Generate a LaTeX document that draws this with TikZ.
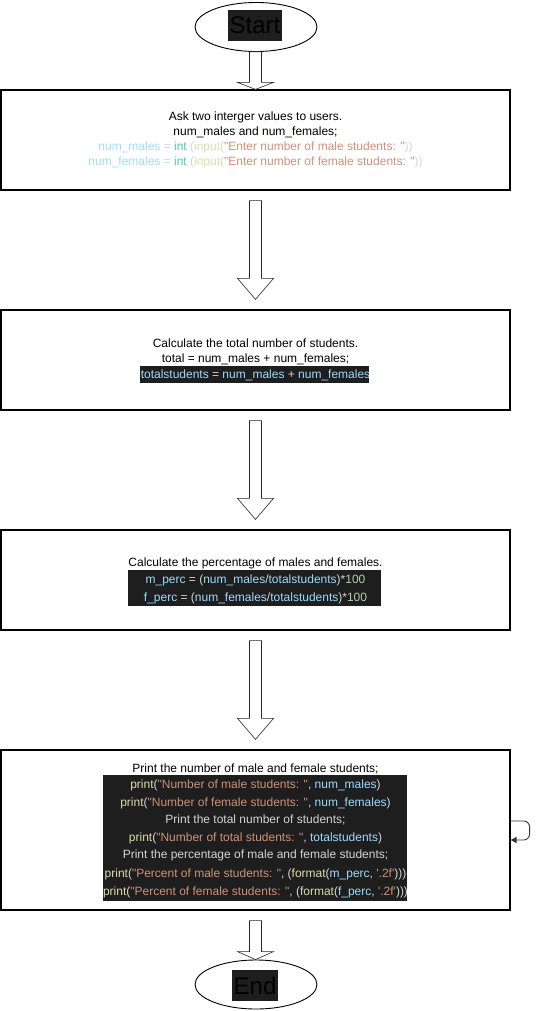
\documentclass[tikz,border=0pt]{standalone}
\usepackage{fontspec}
\newfontfamily\hv{Liberation Sans}
\usetikzlibrary{shapes.geometric,arrows.meta,calc}

\definecolor{codebg}{HTML}{1E1E1E}
\definecolor{codeblue}{HTML}{9CDCFE}
\definecolor{codeteal}{HTML}{4EC9B0}
\definecolor{codeyellow}{HTML}{DCDCAA}
\definecolor{codestr}{HTML}{CE9178}
\definecolor{codegray}{HTML}{D4D4D4}
\definecolor{codenum}{HTML}{B5CEA8}

% syntax colouring helpers
\newcommand\cvar[1]{\textcolor{codeblue}{#1}}
\newcommand\cpun[1]{\textcolor{codegray}{#1}}
\newcommand\cfun[1]{\textcolor{codeyellow}{#1}}
\newcommand\cstr[1]{\textcolor{codestr}{#1}}
\newcommand\ctype[1]{\textcolor{codeteal}{#1}}
\newcommand\cnum[1]{\textcolor{codenum}{#1}}

% hollow block arrow from #1 down to tip #2, head length #3
\newcommand\blockarrow[3]{%
  \draw[blockarrow] let \p1=(#1), \p2=(#2) in
    (\x1-6pt,\y1) -- (\x1+6pt,\y1) -- (\x1+6pt,\y2+#3) -- (\x1+18pt,\y2+#3)
    -- (\x1,\y2) -- (\x1-18pt,\y2+#3) -- (\x1-6pt,\y2+#3) -- cycle;}

\begin{document}
\begin{tikzpicture}[x=1pt,y=-1pt,
  font=\hv\fontsize{12}{14}\selectfont,
  stepbox/.style={draw, line width=1.2pt, minimum width=509pt, minimum height=100pt, inner sep=0pt},
  terminal/.style={ellipse, draw, line width=0.9pt, minimum width=122pt, minimum height=49pt, inner sep=0pt},
  tlabel/.style={fill=codebg, text=black, font=\hv\fontsize{24}{24}\selectfont, inner sep=0pt, minimum height=31pt},
  txt/.style={anchor=base, inner sep=0pt},
  codefill/.style={fill=codebg},
  blockarrow/.style={draw=black!85, line width=0.6pt, fill=white},
  selfloop/.style={draw=black!80, line width=0.9pt, rounded corners=6pt, -{Triangle[length=6pt,width=6pt]}}
]
\path[use as bounding box] (0,0) rectangle (539,1011);

% terminals
\node[terminal] (start) at (256,27) {};
\node[tlabel, minimum width=54pt] (startlbl) at (255,25.5) {Start};
\node[terminal] (end) at (256,984.5) {};
\node[tlabel, minimum width=46pt] (endlbl) at (255,985.5) {End};

% process boxes
\node[stepbox] (box1) at (255.5,140) {};
\node[stepbox] (box2) at (255.5,360) {};
\node[stepbox] (box3) at (255.5,580) {};
\node[stepbox, minimum height=160pt] (box4) at (255.5,830) {};

% box 1
\node[txt] (b1l1) at (255.5,121) {Ask two interger values to users.};
\node[txt] (b1l2) at (255.5,135.5) {num\_males and num\_females;};
\node[txt] (b1l3) at (255.5,150.5) {\cvar{num\_males} \cpun{=} \ctype{int} \cpun{(}\cfun{input}\cpun{(}\cstr{"Enter number of male students: "}\cpun{))}};
\node[txt] (b1l4) at (255.5,165.5) {\cvar{num\_females} \cpun{=} \ctype{int} \cpun{(}\cfun{input}\cpun{(}\cstr{"Enter number of female students: "}\cpun{))}};

% box 2
\node[txt] (b2l1) at (255.5,347.5) {Calculate the total number of students.};
\node[txt] (b2l2) at (255.5,362.5) {total = num\_males + num\_females;};
\fill[codefill] (140,366) rectangle (369,383);
\node[txt] (b2l3) at (255.5,378.3) {\cvar{totalstudents} \cpun{=} \cvar{num\_males} \cpun{+} \cvar{num\_females}};

% box 3
\node[txt] (b3l1) at (255.5,566.5) {Calculate the percentage of males and females.};
\fill[codefill] (128,570) rectangle (381,606);
\node[txt] (b3l2) at (255.5,583) {\cvar{m\_perc} \cpun{= (}\cvar{num\_males}\cpun{/}\cvar{totalstudents}\cpun{)*}\cnum{100}};
\node[txt] (b3l3) at (255.5,601) {\cvar{f\_perc} \cpun{= (}\cvar{num\_females}\cpun{/}\cvar{totalstudents}\cpun{)*}\cnum{100}};

% box 4
\node[txt] (b4l1) at (255.5,772) {Print the number of male and female students;};
\fill[codefill] (103,775) rectangle (407,901);
\node[txt] (b4l2) at (255.5,788.5) {\cfun{print}\cpun{(}\cstr{"Number of male students: "}\cpun{, }\cvar{num\_males}\cpun{)}};
\node[txt] (b4l3) at (255.5,806.5) {\cfun{print}\cpun{(}\cstr{"Number of female students: "}\cpun{, }\cvar{num\_females}\cpun{)}};
\node[txt, text=codegray] (b4l4) at (255.5,823) {Print the total number of students;};
\node[txt] (b4l5) at (255.5,841) {\cfun{print}\cpun{(}\cstr{"Number of total students: "}\cpun{, }\cvar{totalstudents}\cpun{)}};
\node[txt, text=codegray] (b4l6) at (255.5,858.5) {Print the percentage of male and female students;};
\node[txt] (b4l7) at (255.5,877) {\cfun{print}\cpun{(}\cstr{"Percent of male students: "}\cpun{, (}\cfun{format}\cpun{(}\cvar{m\_perc}\cpun{, }\cstr{'.2f'}\cpun{)))}};
\node[txt] (b4l8) at (255.5,895) {\cfun{print}\cpun{(}\cstr{"Percent of female students: "}\cpun{, (}\cfun{format}\cpun{(}\cvar{f\_perc}\cpun{, }\cstr{'.2f'}\cpun{)))}};

% arrow end points
\coordinate (a1s) at ([xshift=-0.5pt]start.south);
\coordinate (a1e) at (box1.north);
\coordinate (a2s) at ($(box1.south)+(0,10)$);
\coordinate (a2e) at ($(box2.north)+(0,-10)$);
\coordinate (a3s) at ($(box2.south)+(0,10)$);
\coordinate (a3e) at ($(box3.north)+(0,-10)$);
\coordinate (a4s) at ($(box3.south)+(0,10)$);
\coordinate (a4e) at ($(box4.north)+(0,-10)$);
\coordinate (a5s) at ($(box4.south)+(0,10)$);
\coordinate (a5e) at ([xshift=-0.5pt]end.north);

\blockarrow{a1s}{a1e}{7pt}
\blockarrow{a2s}{a2e}{21pt}
\blockarrow{a3s}{a3e}{21pt}
\blockarrow{a4s}{a4e}{21pt}
\blockarrow{a5s}{a5e}{8pt}

% self loop on the output step
\draw[selfloop] ([yshift=9pt]box4.east) -- ++(19,0) -- ++(0,19) -- ([yshift=-10pt]box4.east);
\end{tikzpicture}
\end{document}
